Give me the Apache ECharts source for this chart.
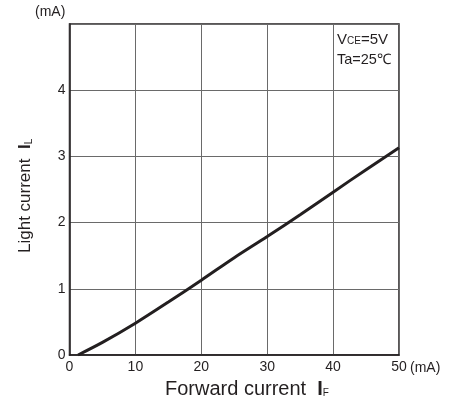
<!DOCTYPE html>
<html>
<head>
<meta charset="utf-8">
<script src="https://cdn.jsdelivr.net/npm/echarts@6/dist/echarts.min.js"></script>
<style>
html,body{margin:0;padding:0;background:#fff;}
#c{width:461px;height:404px;}
</style>
</head>
<body>
<div id="c"></div>
<script>
// Forward current IF (mA)
const forwardCurrent = [1.3, 5, 10, 15, 20, 25, 30, 35, 40, 45, 50];
// Light current IL (mA)
const lightCurrent = [0, 0.19, 0.48, 0.8, 1.13, 1.47, 1.79, 2.12, 2.46, 2.8, 3.13];
const xTicks = [0, 10, 20, 30, 40, 50];
const yTicks = [0, 1, 2, 3, 4];

const chart = echarts.init(document.getElementById('c'), null, {renderer: 'canvas'});
const font = 'Liberation Sans, Arial, Helvetica, sans-serif';
const ink = '#231f20';
const seriesData = forwardCurrent.map((x, i) => [x, lightCurrent[i]]);

chart.setOption({
  animation: false,
  backgroundColor: '#fff',
  grid: {left: 69.5, right: 62, top: 24, bottom: 49, show: true, borderColor: ink, borderWidth: 1.5, backgroundColor: 'transparent'},
  xAxis: {
    type: 'value', min: 0, max: 50, interval: 10,
    axisLine: {show: true, lineStyle: {color: ink, width: 1.5}},
    axisTick: {show: false},
    splitLine: {show: true, lineStyle: {color: '#6a6a6a', width: 1}},
    axisLabel: {color: ink, fontSize: 14, fontFamily: font, margin: 5,
      formatter: v => xTicks.includes(v) ? String(v) : ''}
  },
  yAxis: {
    type: 'value', min: 0, max: 5, interval: 1,
    axisLine: {show: true, lineStyle: {color: ink, width: 1.5}},
    axisTick: {show: false},
    splitLine: {show: true, lineStyle: {color: '#6a6a6a', width: 1}},
    axisLabel: {color: ink, fontSize: 14, fontFamily: font, margin: 4,
      formatter: v => yTicks.includes(v) ? String(v) : ''}
  },
  series: [{
    type: 'line', data: seriesData, smooth: 0.3, symbol: 'none',
    lineStyle: {color: ink, width: 3}
  }],
  graphic: [
    {type: 'text', left: 35, top: 5, style: {text: '(mA)', font: '14px ' + font, fill: ink}},
    {type: 'text', left: 410, top: 361, style: {text: '(mA)', font: '14px ' + font, fill: ink}},
    {type: 'text', left: 165, top: 379, style: {
      text: 'Forward current  {b|I}{s|F}', font: '20px ' + font, fill: ink,
      rich: {b: {fontSize: 20, fontFamily: font, fontWeight: 'bold', color: ink},
             s: {fontSize: 10, fontFamily: font, color: ink, padding: [9, 0, 0, 0]}}
    }},
    {type: 'text', x: 17, y: 253, rotation: Math.PI / 2, style: {
      text: 'Light current  {b|I}{s|L}', font: '17px ' + font, fill: ink,
      rich: {b: {fontSize: 17, fontFamily: font, fontWeight: 'bold', color: ink},
             s: {fontSize: 10, fontFamily: font, color: ink, padding: [7, 0, 0, 0]}}
    }},
    {type: 'text', left: 337, top: 32, style: {
      text: 'V{s|CE}=5V', font: '15px ' + font, fill: ink,
      rich: {s: {fontSize: 10, fontFamily: font, color: ink, padding: [4, 0, 0, 0]}}
    }},
    {type: 'text', left: 337, top: 52, style: {text: 'Ta=25℃', font: '14.5px ' + font, fill: ink}}
  ]
});
</script>
</body>
</html>
